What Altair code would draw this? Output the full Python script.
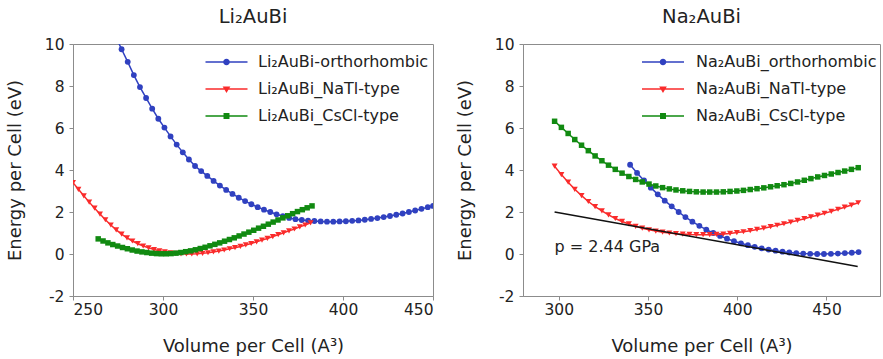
import altair as alt
import pandas as pd

FONT = "DejaVu Sans"
AXIS_GREY = "#8c8c8c"
TEXT = "#222222"

BLUE = "#3041c0"
RED = "#fa2b2b"
GREEN = "#118a11"

# ---------------- Li2AuBi ----------------
li_orth_v = [273.5, 277.0, 280.4, 283.8, 287.2, 290.6, 294.0, 297.4, 300.8, 304.2,
             307.6, 311.0, 314.4, 317.8, 321.2, 324.6, 328.1, 331.6, 335.1, 338.6,
             342.1, 345.6, 349.1, 352.6, 356.1, 359.6, 363.1, 366.6, 370.1, 373.6,
             377.1, 380.6, 384.1, 387.6, 391.1, 394.6, 398.1, 401.6, 405.1, 408.6,
             412.1, 415.6, 419.1, 422.6, 426.1, 429.6, 433.1, 436.6, 440.1, 443.6,
             447.1, 450.0]
li_orth_e = [10.40, 9.75, 9.15, 8.52, 7.95, 7.43, 6.92, 6.44, 6.02, 5.60,
             5.21, 4.84, 4.50, 4.19, 3.95, 3.72, 3.48, 3.26, 3.05, 2.86,
             2.68, 2.52, 2.37, 2.23, 2.11, 2.00, 1.89, 1.80, 1.72, 1.66,
             1.62, 1.59, 1.57, 1.55, 1.54, 1.54, 1.55, 1.56, 1.58, 1.60,
             1.63, 1.67, 1.71, 1.76, 1.81, 1.87, 1.93, 2.00, 2.07, 2.15,
             2.23, 2.29]

li_natl_v = [250, 253, 256, 259, 262, 265, 268, 271, 274, 277,
             280, 283, 286, 289, 292, 295, 298, 301, 304, 307,
             310, 313, 316, 319, 322, 325, 328, 331, 334, 337,
             340, 343, 346, 349, 352, 355, 358, 361, 364, 367,
             370, 373, 376, 379, 382]
li_natl_e = [3.40, 3.08, 2.77, 2.47, 2.18, 1.90, 1.63, 1.38, 1.15, 0.95,
             0.77, 0.62, 0.49, 0.38, 0.29, 0.21, 0.15, 0.10, 0.06, 0.03,
             0.01, 0.00, 0.00, 0.01, 0.03, 0.06, 0.10, 0.14, 0.19, 0.25,
             0.30, 0.36, 0.43, 0.50, 0.58, 0.66, 0.74, 0.83, 0.92, 1.01,
             1.10, 1.19, 1.29, 1.38, 1.48]

li_cscl_v = [264.0, 266.7, 269.4, 272.1, 274.8, 277.5, 280.2, 282.9, 285.6, 288.3,
             291.0, 293.7, 296.4, 299.1, 301.8, 304.5, 307.2, 309.9, 312.6, 315.3,
             318.0, 320.7, 323.4, 326.1, 328.8, 331.5, 334.2, 336.9, 339.6, 342.3,
             345.0, 347.7, 350.4, 353.1, 355.8, 358.5, 361.2, 363.9, 366.6, 369.3,
             372.0, 374.7, 377.4, 380.1, 382.8]
li_cscl_e = [0.72, 0.62, 0.53, 0.45, 0.38, 0.31, 0.25, 0.19, 0.14, 0.10,
             0.07, 0.04, 0.02, 0.01, 0.01, 0.02, 0.04, 0.07, 0.11, 0.15,
             0.20, 0.26, 0.32, 0.39, 0.46, 0.53, 0.61, 0.69, 0.77, 0.86,
             0.95, 1.04, 1.13, 1.23, 1.32, 1.42, 1.52, 1.62, 1.72, 1.82,
             1.92, 2.02, 2.11, 2.20, 2.29]

# ---------------- Na2AuBi ----------------
na_orth_v = [340.0, 343.9, 347.8, 351.6, 355.5, 359.4, 363.3, 367.2, 371.0, 374.9,
             378.8, 382.7, 386.6, 390.4, 394.3, 398.2, 402.1, 406.0, 409.8, 413.7,
             417.6, 421.5, 425.4, 429.2, 433.1, 437.0, 440.9, 444.8, 448.6, 452.5,
             456.4, 460.3, 464.2, 468.0]
na_orth_e = [4.25, 3.86, 3.50, 3.16, 2.84, 2.54, 2.27, 2.00, 1.76, 1.54,
             1.34, 1.16, 1.00, 0.86, 0.73, 0.61, 0.51, 0.42, 0.34, 0.27,
             0.21, 0.16, 0.11, 0.07, 0.04, 0.02, 0.01, 0.00, 0.00, 0.01,
             0.02, 0.04, 0.06, 0.09]

na_grid_v = [297.7, 301.5, 305.3, 309.0, 312.8, 316.6, 320.4, 324.2, 327.9, 331.7,
             335.5, 339.3, 343.1, 346.8, 350.6, 354.4, 358.2, 362.0, 365.7, 369.5,
             373.3, 377.1, 380.9, 384.6, 388.4, 392.2, 396.0, 399.8, 403.5, 407.3,
             411.1, 414.9, 418.7, 422.4, 426.2, 430.0, 433.8, 437.6, 441.3, 445.1,
             448.9, 452.7, 456.5, 460.2, 464.0, 467.8]
na_natl_e = [4.18, 3.78, 3.42, 3.08, 2.78, 2.50, 2.26, 2.05, 1.86, 1.69,
             1.55, 1.43, 1.32, 1.23, 1.15, 1.09, 1.04, 1.00, 0.97, 0.95,
             0.93, 0.92, 0.92, 0.92, 0.93, 0.95, 0.98, 1.02, 1.06, 1.11,
             1.17, 1.23, 1.30, 1.37, 1.44, 1.52, 1.60, 1.68, 1.77, 1.85,
             1.94, 2.03, 2.13, 2.23, 2.33, 2.44]
na_cscl_e = [6.32, 6.03, 5.74, 5.45, 5.18, 4.92, 4.67, 4.44, 4.23, 4.03,
             3.85, 3.69, 3.55, 3.43, 3.33, 3.24, 3.16, 3.10, 3.05, 3.01,
             2.98, 2.96, 2.95, 2.95, 2.95, 2.96, 2.98, 3.00, 3.03, 3.07,
             3.11, 3.15, 3.20, 3.25, 3.30, 3.36, 3.43, 3.51, 3.59, 3.67,
             3.74, 3.81, 3.88, 3.95, 4.03, 4.11]

# common tangent line (p = 2.44 GPa)
tangent_v = [297.7, 467.5]
tangent_e = [2.00, -0.59]
tangent_label = "p = 2.44 GPa"
label_v = [297.7]
label_e = [0.35]

# legend glyphs: a thin bar standing in for the line, plus the marker
BAR = "M-6,-0.22H6V0.22H-6Z"
CIRCLE_GLYPH = BAR + "M-0.95,0A0.95,0.95 0 1,1 0.95,0A0.95,0.95 0 1,1 -0.95,0Z"
TRI_GLYPH = BAR + "M-1.1,-0.75L1.1,-0.75L0,1.15Z"
SQUARE_GLYPH = BAR + "M-0.85,-0.85L0.85,-0.85L0.85,0.85L-0.85,0.85Z"

PLAIN_NUMBER = "'' + datum.value"


def panel(title, series, x_domain, x_ticks, width, legend_x, label_offset, extra=()):
    x = alt.X("V:Q", scale=alt.Scale(domain=x_domain, nice=False, zero=False),
              axis=alt.Axis(values=x_ticks, title="Volume per Cell (A³)",
                            titlePadding=20, labelPadding=2, labelExpr=PLAIN_NUMBER))
    y = alt.Y("E:Q", scale=alt.Scale(domain=[-2, 10], nice=False, zero=False),
              axis=alt.Axis(values=[-2, 0, 2, 4, 6, 8, 10], title="Energy per Cell (eV)",
                            titlePadding=20, labelPadding=5, labelExpr=PLAIN_NUMBER))
    layers = []
    frames = []
    for name, v, e, color, shape, size in series:
        df = pd.DataFrame({"V": v, "E": e, "series": name})
        frames.append(df)
        base = alt.Chart(df)
        layers.append(base.mark_line(color=color, strokeWidth=1.5, clip=True)
                      .encode(x=x, y=y))
        layers.append(base.mark_point(shape=shape, filled=True, color=color, size=size,
                                      opacity=1, clip=True)
                      .encode(x=x, y=y))
    layers.extend(extra)

    names = [s[0] for s in series]
    legend = alt.Legend(title=None, orient="none", legendX=legend_x, legendY=10,
                        symbolSize=49, symbolOpacity=1, labelFont=FONT,
                        labelFontSize=16, labelColor=TEXT, labelOffset=label_offset,
                        rowPadding=11, padding=0, labelLimit=400)
    legend_layer = (alt.Chart(pd.concat(frames, ignore_index=True))
                    .mark_point(filled=True, opacity=0, clip=True)
                    .encode(x=x, y=y,
                            fill=alt.Fill("series:N", legend=legend,
                                          scale=alt.Scale(domain=names,
                                                          range=[s[3] for s in series]),
                                          sort=names),
                            shape=alt.Shape("series:N", legend=legend,
                                            scale=alt.Scale(domain=names,
                                                            range=[CIRCLE_GLYPH, TRI_GLYPH, SQUARE_GLYPH]),
                                            sort=names)))
    layers.append(legend_layer)
    return alt.layer(*layers).properties(width=width, height=252,
                                         title=alt.TitleParams(title))


li_series = [
    ("Li₂AuBi-orthorhombic", li_orth_v, li_orth_e, BLUE, "circle", 34),
    ("Li₂AuBi_NaTl-type", li_natl_v, li_natl_e, RED, "triangle-down", 36),
    ("Li₂AuBi_CsCl-type", li_cscl_v, li_cscl_e, GREEN, "square", 30),
]
na_series = [
    ("Na₂AuBi_orthorhombic", na_orth_v, na_orth_e, BLUE, "circle", 34),
    ("Na₂AuBi_NaTl-type", na_grid_v, na_natl_e, RED, "triangle-down", 36),
    ("Na₂AuBi_CsCl-type", na_grid_v, na_cscl_e, GREEN, "square", 30),
]

tangent_df = pd.DataFrame({"V": tangent_v, "E": tangent_e})
label_df = pd.DataFrame({"V": label_v, "E": label_e, "text": [tangent_label]})
tangent = alt.Chart(tangent_df).mark_line(color="#111111", strokeWidth=1.5).encode(
    x="V:Q", y="E:Q")
tangent_text = alt.Chart(label_df).mark_text(
    align="left", baseline="middle", font=FONT, fontSize=16, color=TEXT
).encode(x="V:Q", y="E:Q", text="text:N")

left = panel("Li₂AuBi", li_series, [250, 450], [250, 300, 350, 400, 450], 360,
             legend_x=145.5, label_offset=23.5)
right = panel("Na₂AuBi", na_series, [280, 480], [300, 350, 400, 450], 357,
              legend_x=132, label_offset=25, extra=(tangent, tangent_text))

chart = (
    alt.hconcat(left, right, spacing=21)
    .resolve_scale(x="independent", y="independent", fill="independent",
                   shape="independent")
    .properties(padding={"left": 5, "top": 6, "right": 0, "bottom": 0},
                background="white")
    .configure_view(stroke=AXIS_GREY, strokeWidth=1)
    .configure_axis(domainColor=AXIS_GREY, tickColor=AXIS_GREY, tickSize=4,
                    labelFont=FONT, labelFontSize=15.5, labelColor=TEXT,
                    titleFont=FONT, titleFontSize=18, titleFontWeight="normal",
                    titleColor=TEXT, grid=False)
    .configure_title(font=FONT, fontSize=19.5, fontWeight="normal", color=TEXT,
                     anchor="middle", frame="group", offset=10)
)

chart.save("out.html", embed_options={"renderer": "svg", "actions": False})
